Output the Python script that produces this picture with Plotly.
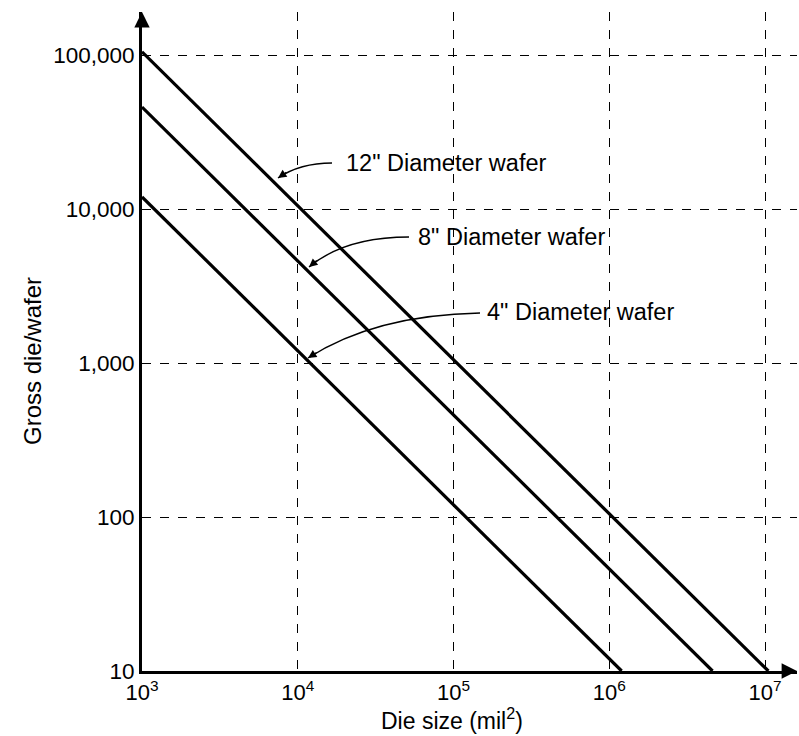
import plotly.graph_objects as go

# Data (gross die per wafer vs die size, log-log)
die_size_12 = [1e3, 1.05e7]
gross_12 = [105000, 10]
die_size_8 = [1e3, 4.6e6]
gross_8 = [46000, 10]
die_size_4 = [1e3, 1.2e6]
gross_4 = [12000, 10]

x_tickvals = [1e3, 1e4, 1e5, 1e6, 1e7]
x_ticktext = ["10<sup>3</sup>", "10<sup>4</sup>", "10<sup>5</sup>", "10<sup>6</sup>", "10<sup>7</sup>"]
y_tickvals = [10, 100, 1000, 10000, 100000]
y_ticktext = ["10", "100", "1,000", "10,000", "100,000"]

labels = ['12" Diameter wafer', '8" Diameter wafer', '4" Diameter wafer']

W, H = 799, 736
ML, MR, MT, MB = 142, 2, 12, 65
PW, PH = W - ML - MR, H - MT - MB

def px(xp):
    return (xp - ML) / PW

def py(yp):
    return (H - MB - yp) / PH

FAM = "Liberation Sans, Arial, sans-serif"

fig = go.Figure()
for xs, ys in [(die_size_12, gross_12), (die_size_8, gross_8), (die_size_4, gross_4)]:
    fig.add_trace(go.Scatter(x=xs, y=ys, mode="lines",
                             line=dict(color="black", width=3.2), showlegend=False,
                             hoverinfo="skip"))

# label geometry (pixel): text left/centre, curve start, control, arrow tip
ann_geom = [
    ((344, 163), (332, 163), (300, 163), (278, 178)),
    ((416, 237), (409, 237), (345, 237), (309, 267)),
    ((485, 312), (480, 313), (375, 315), (308, 358)),
]
annotations = []
shapes = []
for lab, (tpos, s, c, e) in zip(labels, ann_geom):
    annotations.append(dict(x=px(tpos[0]), y=py(tpos[1]), xref="paper", yref="paper",
                            text=lab, showarrow=False, xanchor="left", yanchor="middle",
                            font=dict(family=FAM, size=23.5, color="black")))
    path = "M %f,%f Q %f,%f %f,%f" % (px(s[0]), py(s[1]), px(c[0]), py(c[1]), px(e[0]), py(e[1]))
    shapes.append(dict(type="path", xref="paper", yref="paper", path=path,
                       line=dict(color="black", width=1.4)))
    dx, dy = c[0] - e[0], c[1] - e[1]
    n = (dx * dx + dy * dy) ** 0.5
    annotations.append(dict(x=px(e[0]), y=py(e[1]), xref="paper", yref="paper",
                            ax=dx / n * 12, ay=dy / n * 12, text="", showarrow=True,
                            arrowhead=2, arrowsize=1.2, arrowwidth=1.4, arrowcolor="black"))

# axis arrowheads
annotations.append(dict(x=1, y=0, xref="paper", yref="paper", ax=-16, ay=0, text="",
                        showarrow=True, arrowhead=2, arrowsize=1.1, arrowwidth=2.8,
                        arrowcolor="black", standoff=0))
annotations.append(dict(x=0, y=1, xref="paper", yref="paper", ax=0, ay=16, text="",
                        showarrow=True, arrowhead=2, arrowsize=1.1, arrowwidth=2.8,
                        arrowcolor="black", standoff=0))

# axis titles
annotations.append(dict(x=px(452), y=py(719), xref="paper", yref="paper",
                        text="Die size (mil<sup>2</sup>)", showarrow=False,
                        xanchor="center", yanchor="middle",
                        font=dict(family=FAM, size=23, color="black")))
annotations.append(dict(x=px(32), y=py(361), xref="paper", yref="paper",
                        text="Gross die/wafer", showarrow=False, textangle=-90,
                        xanchor="center", yanchor="middle",
                        font=dict(family=FAM, size=24, color="black")))

fig.update_layout(
    width=W, height=H,
    margin=dict(l=ML, r=MR, t=MT, b=MB, autoexpand=False),
    paper_bgcolor="white", plot_bgcolor="white",
    font=dict(family=FAM, size=22, color="black"),
    shapes=shapes, annotations=annotations,
    xaxis=dict(type="log", range=[3, 7.205], tickvals=x_tickvals, ticktext=x_ticktext,
               showgrid=True, gridcolor="black", griddash="dash", gridwidth=1,
               showline=True, linecolor="black", linewidth=2.8, ticks="",
               zeroline=False, automargin=False,
               tickfont=dict(family=FAM, size=22, color="black")),
    yaxis=dict(type="log", range=[1, 5.28], tickvals=y_tickvals, ticktext=y_ticktext,
               showgrid=True, gridcolor="black", griddash="dash", gridwidth=1,
               showline=True, linecolor="black", linewidth=2.8, ticks="",
               zeroline=False, automargin=False,
               tickfont=dict(family=FAM, size=22.5, color="black")),
)

fig.write_html("out.html", config={"displayModeBar": False},
               post_script="document.body.style.margin='0';document.body.style.overflow='hidden';")
